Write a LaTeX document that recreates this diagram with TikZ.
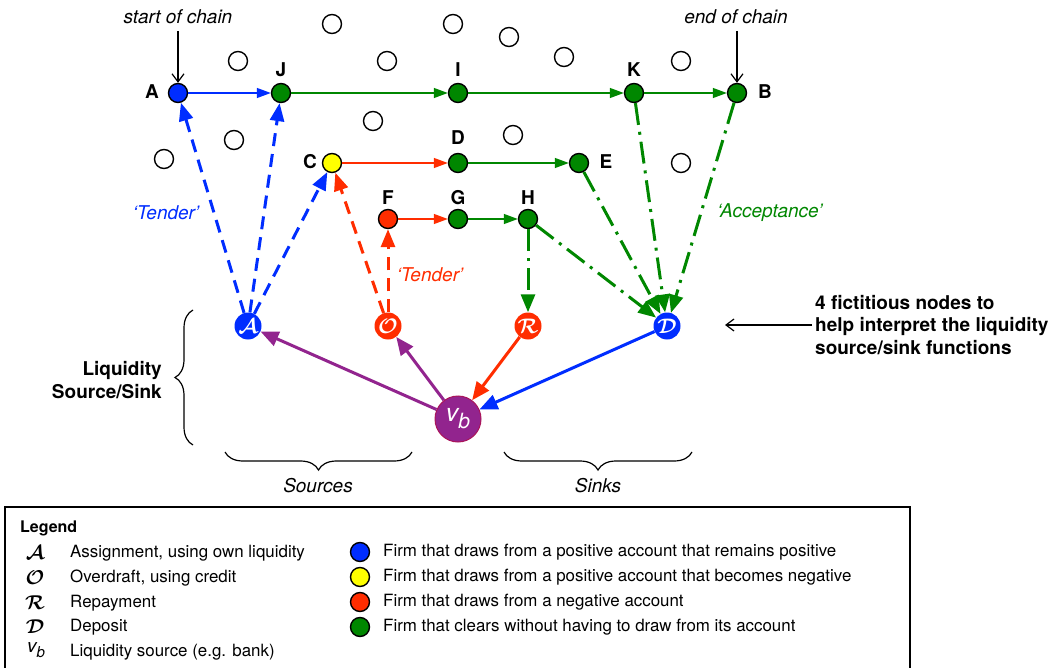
\documentclass[tikz,border=0pt]{standalone}
\usepackage{fix-cm}
\usepackage{bm}
\usepackage{fontspec}
\setmainfont{TeX Gyre Heros}
\usetikzlibrary{arrows.meta,decorations.pathreplacing}

\definecolor{lqblue}{RGB}{0,45,255}
\definecolor{lqred}{RGB}{255,45,0}
\definecolor{lqgreen}{RGB}{0,135,0}
\definecolor{lqyellow}{RGB}{255,255,0}
\definecolor{lqpurple}{RGB}{146,36,142}
\definecolor{lqrim}{RGB}{170,20,90}

\tikzset{
  firm/.style={circle,draw=black,line width=1.4pt,minimum size=19pt,inner sep=0pt},
  idle/.style={circle,draw=black,line width=1.4pt,fill=white,minimum size=19pt,inner sep=0pt},
  func/.style={circle,minimum size=27pt,inner sep=0pt,text=white,font=\fontsize{21}{21}\selectfont},
  lbl/.style={font=\fontsize{19}{22}\selectfont\bfseries,inner sep=0pt},
  note/.style={font=\fontsize{19}{22}\selectfont\itshape,inner sep=0pt},
  legtxt/.style={font=\fontsize{16.9}{20}\selectfont,inner sep=0pt,anchor=west},
  legsym/.style={font=\fontsize{20}{20}\selectfont,inner sep=0pt},
  chain/.style={line width=1.3pt,-{Triangle[length=14pt,width=10pt]}},
  tender/.style={line width=3pt,dash pattern=on 13pt off 8pt,-{Triangle[length=18pt,width=14pt]}},
  accept/.style={line width=3pt,lqgreen,dash pattern=on 22pt off 7pt on 3pt off 7pt,-{Triangle[length=18pt,width=14pt]}},
  flow/.style={line width=3pt,-{Triangle[length=18pt,width=15pt]}},
  pointer/.style={line width=1.2pt,-{Straight Barb[length=8pt,width=12pt]}},
  curly/.style={decorate,decoration={brace,amplitude=18pt},line width=1.2pt},
}

\begin{document}
\begin{tikzpicture}[x=1pt,y=-1pt]
\useasboundingbox (0,0) rectangle (1059,668);

% idle firms
\foreach \px/\py [count=\k] in {332/24,453/24,509/37,564/57,681/61,238/61,387/61,373/121,234/140,164/159,513/135,681/163}
  \node[idle] (idle\k) at (\px,\py) {};

% firms in the clearing chains
\node[firm,fill=lqblue]   (A) at (178,93) {};
\node[firm,fill=lqgreen]  (J) at (281,93) {};
\node[firm,fill=lqgreen]  (I) at (458,93) {};
\node[firm,fill=lqgreen]  (K) at (634,93) {};
\node[firm,fill=lqgreen]  (B) at (737,93) {};
\node[firm,fill=lqyellow] (C) at (332,163) {};
\node[firm,fill=lqgreen]  (D) at (458,163) {};
\node[firm,fill=lqgreen]  (E) at (579,163) {};
\node[firm,fill=lqred]    (F) at (388,219) {};
\node[firm,fill=lqgreen]  (G) at (458,219) {};
\node[firm,fill=lqgreen]  (H) at (528,219) {};

% firm labels
\node[lbl] (lA) at (152,92) {A};
\node[lbl] (lJ) at (281,70) {J};
\node[lbl] (lI) at (458,70) {I};
\node[lbl] (lK) at (634,70) {K};
\node[lbl] (lB) at (765,92) {B};
\node[lbl] (lC) at (310,162) {C};
\node[lbl] (lD) at (458,138) {D};
\node[lbl] (lE) at (606,162) {E};
\node[lbl] (lF) at (388,198) {F};
\node[lbl] (lG) at (458,198) {G};
\node[lbl] (lH) at (528,198) {H};

% source/sink function nodes
\node[func,fill=lqblue] (fA) at (248,326) {$\bm{\mathcal{A}}$};
\node[func,fill=lqred]  (fO) at (388,326) {$\bm{\mathcal{O}}$};
\node[func,fill=lqred]  (fR) at (528,326) {$\bm{\mathcal{R}}$};
\node[func,fill=lqblue] (fD) at (667,326) {$\bm{\mathcal{D}}$};
\node[circle,fill=lqpurple,draw=lqrim,line width=1pt,minimum size=46pt,inner sep=0pt,text=white] (vb) at (458,419)
  {\fontsize{25}{25}\selectfont\itshape v\raisebox{-7pt}{\fontsize{21}{21}\selectfont b}};

% chain payments
\draw[chain,lqblue]  (A) -- (J);
\draw[chain,lqgreen] (J) -- (I);
\draw[chain,lqgreen] (I) -- (K);
\draw[chain,lqgreen] (K) -- (B);
\draw[chain,lqred]   (C) -- (D);
\draw[chain,lqgreen] (D) -- (E);
\draw[chain,lqred]   (F) -- (G);
\draw[chain,lqgreen] (G) -- (H);

% tenders
\draw[tender,lqblue] (fA) -- (A);
\draw[tender,lqblue] (fA) -- (J);
\draw[tender,lqblue] (fA) -- (C);
\draw[tender,lqred]  (fO) -- (C);
\draw[tender,lqred]  (fO) -- (F);

% acceptances
\draw[accept] (H) -- (fR);
\draw[accept] (H) -- (fD);
\draw[accept] (E) -- (fD);
\draw[accept] (K) -- (fD);
\draw[accept] (B) -- (fD);

% liquidity flows through the bank
\draw[flow,lqpurple] (vb) -- (fA);
\draw[flow,lqpurple] (vb) -- (fO);
\draw[flow,lqred]    (fR) -- (vb);
\draw[flow,lqblue]   (fD) -- (vb);

% annotations
\node[note] (start) at (178,17) {start of chain};
\node[note] (end)   at (736,17) {end of chain};
\coordinate (startTail) at (178,31);
\coordinate (endTail) at (737,31);
\draw[pointer] (startTail) -- (A);
\draw[pointer] (endTail) -- (B);

\node[note,text=lqblue]  (tb) at (166,213) {‘Tender’};
\node[note,text=lqred]   (tr) at (430,275) {‘Tender’};
\node[note,text=lqgreen] (ta) at (770,213) {‘Acceptance’};

\node[lbl,align=left,anchor=west,font=\fontsize{19}{22.5}\selectfont\bfseries] (fict) at (815,325)
  {4 fictitious nodes to\\help interpret the liquidity\\source/sink functions};
\coordinate (fictTip) at (725,325);
\draw[pointer] ([xshift=-3pt]fict.west) -- (fictTip);

\node[lbl,align=right,anchor=east,font=\fontsize{19}{23.5}\selectfont\bfseries] (lss) at (162,380)
  {Liquidity\\Source/Sink};

% braces
\draw[curly] (193,445) -- (193,310);
\draw[curly] (412,452) -- (225,452);
\draw[curly] (692,452) -- (504,452);
\node[note] (src) at (318,486) {Sources};
\node[note] (snk) at (598,486) {Sinks};

% legend
\draw[line width=1.5pt] (5,668) -- (5,507) -- (910,507) -- (910,668);
\node[font=\fontsize{16}{20}\selectfont\bfseries,inner sep=0pt,anchor=west] (leg) at (20,528) {Legend};

\node[legsym] (sA) at (35,553) {$\bm{\mathcal{A}}$};
\node[legsym] (sO) at (35,578) {$\bm{\mathcal{O}}$};
\node[legsym] (sR) at (35,603) {$\bm{\mathcal{R}}$};
\node[legsym] (sD) at (35,627) {$\bm{\mathcal{D}}$};
\node[legsym] (sV) at (36,650) {\fontsize{19}{19}\selectfont\itshape v\raisebox{-5pt}{\fontsize{15}{15}\selectfont b}};
\node[legtxt] (tA) at (70,553) {Assignment, using own liquidity};
\node[legtxt] (tO) at (70,578) {Overdraft, using credit};
\node[legtxt] (tR) at (70,603) {Repayment};
\node[legtxt] (tD) at (70,627) {Deposit};
\node[legtxt] (tV) at (70,652) {Liquidity source (e.g. bank)};

\node[firm,fill=lqblue]   (cB) at (360,552) {};
\node[firm,fill=lqyellow] (cY) at (360,577) {};
\node[firm,fill=lqred]    (cR) at (360,602) {};
\node[firm,fill=lqgreen]  (cG) at (360,627) {};
\node[legtxt] (kB) at (383,552) {Firm that draws from a positive account that remains positive};
\node[legtxt] (kY) at (383,577) {Firm that draws from a positive account that becomes negative};
\node[legtxt] (kR) at (383,602) {Firm that draws from a negative account};
\node[legtxt] (kG) at (383,627) {Firm that clears without having to draw from its account};
\end{tikzpicture}
\end{document}
